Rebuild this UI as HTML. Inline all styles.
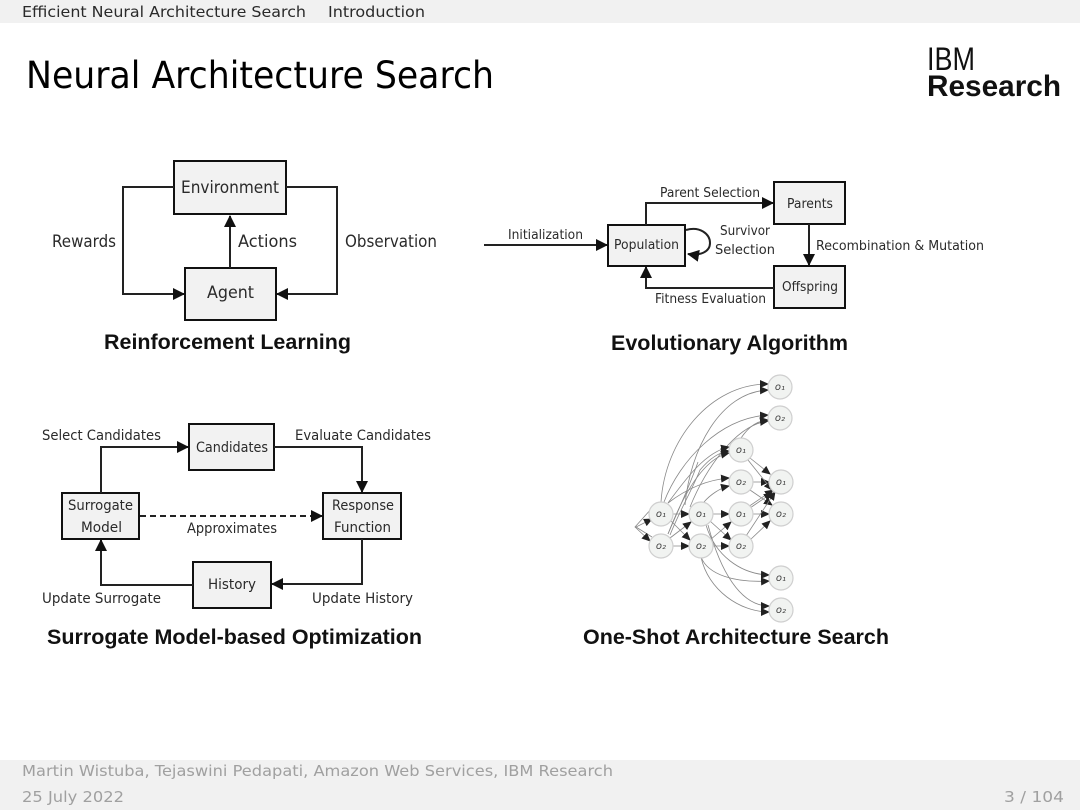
<!DOCTYPE html>
<html><head><meta charset="utf-8"><style>
html,body{margin:0;padding:0;background:#fff;width:1080px;height:810px;overflow:hidden}
svg{display:block}
text{font-family:"DejaVu Sans","Liberation Sans",sans-serif;fill:#2a2a2a}
.b{font-family:"Liberation Sans",sans-serif;font-weight:bold;font-size:21px;fill:#111}
.n{font-size:13px}
.e{stroke:#222;stroke-width:2;fill:none}
.box{fill:#f2f2f2;stroke:#111;stroke-width:2}
.g{fill:none;stroke:#888;stroke-width:.8}
.c{fill:#f1f3f1;stroke:#cfcfcf;stroke-width:1.2}
.o{font-size:10px;font-style:italic;fill:#444;text-anchor:middle}
</style></head><body>
<svg width="1080" height="810" viewBox="0 0 1080 810" xmlns="http://www.w3.org/2000/svg">
<defs>
<marker id="a" markerUnits="userSpaceOnUse" markerWidth="12" markerHeight="12" refX="11" refY="6" orient="auto"><path d="M0 0L12 6L0 12Z" fill="#111"/></marker>
<marker id="s" markerUnits="userSpaceOnUse" markerWidth="9" markerHeight="8" refX="8" refY="4" orient="auto"><path d="M0 0L9 4L0 8Z" fill="#222"/></marker>
</defs>
<rect width="1080" height="23" fill="#f1f1f1"/>
<text x="22" y="17" font-size="15.5" textLength="284" lengthAdjust="spacingAndGlyphs">Efficient Neural Architecture Search</text>
<text x="328" y="17" font-size="15.5" textLength="97" lengthAdjust="spacingAndGlyphs">Introduction</text>
<text x="26" y="88" font-size="37" style="fill:#000" textLength="468" lengthAdjust="spacingAndGlyphs">Neural Architecture Search</text>
<text x="927" y="70" style="font-family:'Liberation Sans';fill:#111" font-size="32" textLength="48" lengthAdjust="spacingAndGlyphs">IBM</text>
<text x="927" y="96" style="font-family:'Liberation Sans';font-weight:bold;fill:#111" font-size="30" textLength="134" lengthAdjust="spacingAndGlyphs">Research</text>

<!-- RL -->
<rect class="box" x="174" y="161" width="112" height="53"/>
<rect class="box" x="185" y="268" width="91" height="52"/>
<text x="181" y="193" font-size="16.5" textLength="98" lengthAdjust="spacingAndGlyphs">Environment</text>
<text x="207" y="298" font-size="16.5" textLength="47" lengthAdjust="spacingAndGlyphs">Agent</text>
<path class="e" marker-end="url(#a)" d="M230 268V216"/>
<path class="e" marker-end="url(#a)" d="M174 187H123V294H184"/>
<path class="e" marker-end="url(#a)" d="M286 187H337V294H277"/>
<text x="52" y="247" font-size="16.5" textLength="64" lengthAdjust="spacingAndGlyphs">Rewards</text>
<text x="238" y="247" font-size="16.5" textLength="59" lengthAdjust="spacingAndGlyphs">Actions</text>
<text x="345" y="247" font-size="16.5" textLength="92" lengthAdjust="spacingAndGlyphs">Observation</text>
<text class="b" x="104" y="349" textLength="247" lengthAdjust="spacingAndGlyphs">Reinforcement Learning</text>

<!-- EA -->
<rect class="box" x="608" y="225" width="77" height="41"/>
<rect class="box" x="774" y="182" width="71" height="42"/>
<rect class="box" x="774" y="266" width="71" height="42"/>
<text x="614" y="249" class="n" textLength="65" lengthAdjust="spacingAndGlyphs">Population</text>
<text x="787" y="208" class="n" textLength="46" lengthAdjust="spacingAndGlyphs">Parents</text>
<text x="782" y="291" class="n" textLength="56" lengthAdjust="spacingAndGlyphs">Offspring</text>
<path class="e" marker-end="url(#a)" d="M484 245H607"/>
<path class="e" marker-end="url(#a)" d="M646 225V203H773"/>
<path class="e" marker-end="url(#a)" d="M809 224V265"/>
<path class="e" marker-end="url(#a)" d="M774 288H646V267"/>
<path class="e" marker-end="url(#a)" d="M686 230C700 226 710 234 710 243C710 252 700 256 688 254"/>
<text x="508" y="239" class="n" textLength="75" lengthAdjust="spacingAndGlyphs">Initialization</text>
<text x="660" y="197" class="n" textLength="100" lengthAdjust="spacingAndGlyphs">Parent Selection</text>
<text x="720" y="235" class="n" textLength="50" lengthAdjust="spacingAndGlyphs">Survivor</text>
<text x="715" y="254" class="n" textLength="60" lengthAdjust="spacingAndGlyphs">Selection</text>
<text x="816" y="250" class="n" textLength="168" lengthAdjust="spacingAndGlyphs">Recombination &amp; Mutation</text>
<text x="655" y="303" class="n" textLength="111" lengthAdjust="spacingAndGlyphs">Fitness Evaluation</text>
<text class="b" x="611" y="350" textLength="237" lengthAdjust="spacingAndGlyphs">Evolutionary Algorithm</text>

<!-- SMBO -->
<rect class="box" x="189" y="424" width="85" height="46"/>
<rect class="box" x="62" y="493" width="77" height="46"/>
<rect class="box" x="323" y="493" width="78" height="46"/>
<rect class="box" x="193" y="562" width="78" height="46"/>
<text x="196" y="452" font-size="14" textLength="72" lengthAdjust="spacingAndGlyphs">Candidates</text>
<text x="68" y="510" font-size="14" textLength="65" lengthAdjust="spacingAndGlyphs">Surrogate</text>
<text x="81" y="532" font-size="14" textLength="41" lengthAdjust="spacingAndGlyphs">Model</text>
<text x="332" y="510" font-size="14" textLength="62" lengthAdjust="spacingAndGlyphs">Response</text>
<text x="334" y="532" font-size="14" textLength="57" lengthAdjust="spacingAndGlyphs">Function</text>
<text x="208" y="589" font-size="14" textLength="48" lengthAdjust="spacingAndGlyphs">History</text>
<path class="e" marker-end="url(#a)" d="M101 493V447H188"/>
<path class="e" marker-end="url(#a)" d="M274 447H362V492"/>
<path class="e" marker-end="url(#a)" d="M362 539V584H272"/>
<path class="e" marker-end="url(#a)" d="M193 585H101V540"/>
<path class="e" stroke-dasharray="6 4" marker-end="url(#a)" d="M140 516H322"/>
<text x="42" y="440" font-size="14" textLength="119" lengthAdjust="spacingAndGlyphs">Select Candidates</text>
<text x="295" y="440" font-size="14" textLength="136" lengthAdjust="spacingAndGlyphs">Evaluate Candidates</text>
<text x="187" y="533" font-size="14" textLength="90" lengthAdjust="spacingAndGlyphs">Approximates</text>
<text x="42" y="603" font-size="14" textLength="119" lengthAdjust="spacingAndGlyphs">Update Surrogate</text>
<text x="312" y="603" font-size="14" textLength="101" lengthAdjust="spacingAndGlyphs">Update History</text>
<text class="b" x="47" y="644" textLength="375" lengthAdjust="spacingAndGlyphs">Surrogate Model-based Optimization</text>

<!-- One-shot -->
<g class="g">
<path marker-end="url(#s)" d="M661 502C665 440 710 384 768 384"/>
<path marker-end="url(#s)" d="M685 505C690 450 720 392 768 390"/>
<path marker-end="url(#s)" d="M664 502C680 460 720 418 768 415"/>
<path marker-end="url(#s)" d="M690 507C705 470 735 425 768 421"/>
<path marker-end="url(#s)" d="M668 503C685 480 705 452 729 447"/>
<path marker-end="url(#s)" d="M668 534C685 490 705 458 729 453"/>
<path marker-end="url(#s)" d="M668 503C685 490 705 480 729 478"/>
<path marker-end="url(#s)" d="M704 502C710 495 720 488 729 486"/>
<path marker-end="url(#s)" d="M670 535C680 510 692 490 700 470C710 458 720 452 729 451"/>
<path marker-end="url(#s)" d="M652 537L636 527L652 519"/>
<path marker-end="url(#s)" d="M652 508L635 527L650 541"/>
<path d="M668 534C676 515 688 490 698 462"/>
<path marker-end="url(#s)" d="M672 514H689"/>
<path marker-end="url(#s)" d="M672 546H689"/>
<path marker-end="url(#s)" d="M670 538L691 522"/>
<path marker-end="url(#s)" d="M671 521L690 540"/>
<path marker-end="url(#s)" d="M712 514H729"/>
<path marker-end="url(#s)" d="M712 546H729"/>
<path marker-end="url(#s)" d="M710 540L731 522"/>
<path marker-end="url(#s)" d="M710 521L731 540"/>
<path marker-end="url(#s)" d="M752 514H769"/>
<path marker-end="url(#s)" d="M750 540L770 521"/>
<path marker-end="url(#s)" d="M752 482H769"/>
<path marker-end="url(#s)" d="M750 458L770 474"/>
<path marker-end="url(#s)" d="M748 460L772 490"/>
<path marker-end="url(#s)" d="M750 490L772 505"/>
<path marker-end="url(#s)" d="M748 507L773 490"/>
<path marker-end="url(#s)" d="M746 536L775 492"/>
<path marker-end="url(#s)" d="M750 508L772 493"/>
<path marker-end="url(#s)" d="M741 438C750 425 758 421 768 420"/>
<path marker-end="url(#s)" d="M706 525C715 555 740 574 769 575"/>
<path marker-end="url(#s)" d="M701 557C708 575 735 583 769 581"/>
<path marker-end="url(#s)" d="M708 525C720 570 740 606 769 606"/>
<path marker-end="url(#s)" d="M701 557C708 590 740 612 769 612"/>
</g>
<g>
<circle class="c" cx="780" cy="387" r="12"/><text class="o" x="780" y="390">o₁</text>
<circle class="c" cx="780" cy="418" r="12"/><text class="o" x="780" y="421">o₂</text>
<circle class="c" cx="741" cy="450" r="12"/><text class="o" x="741" y="453">o₁</text>
<circle class="c" cx="741" cy="482" r="12"/><text class="o" x="741" y="485">o₂</text>
<circle class="c" cx="781" cy="482" r="12"/><text class="o" x="781" y="485">o₁</text>
<circle class="c" cx="781" cy="514" r="12"/><text class="o" x="781" y="517">o₂</text>
<circle class="c" cx="741" cy="514" r="12"/><text class="o" x="741" y="517">o₁</text>
<circle class="c" cx="741" cy="546" r="12"/><text class="o" x="741" y="549">o₂</text>
<circle class="c" cx="701" cy="514" r="12"/><text class="o" x="701" y="517">o₁</text>
<circle class="c" cx="701" cy="546" r="12"/><text class="o" x="701" y="549">o₂</text>
<circle class="c" cx="661" cy="514" r="12"/><text class="o" x="661" y="517">o₁</text>
<circle class="c" cx="661" cy="546" r="12"/><text class="o" x="661" y="549">o₂</text>
<circle class="c" cx="781" cy="578" r="12"/><text class="o" x="781" y="581">o₁</text>
<circle class="c" cx="781" cy="610" r="12"/><text class="o" x="781" y="613">o₂</text>
</g>
<text class="b" x="583" y="644" textLength="306" lengthAdjust="spacingAndGlyphs">One-Shot Architecture Search</text>

<!-- footer -->
<rect y="760" width="1080" height="50" fill="#f1f1f1"/>
<text x="22" y="776" font-size="15.5" style="fill:#a0a0a0" textLength="591" lengthAdjust="spacingAndGlyphs">Martin Wistuba, Tejaswini Pedapati, Amazon Web Services, IBM Research</text>
<text x="22" y="802" font-size="15.5" style="fill:#a0a0a0" textLength="102" lengthAdjust="spacingAndGlyphs">25 July 2022</text>
<text x="1004" y="802" font-size="15.5" style="fill:#a0a0a0" textLength="60" lengthAdjust="spacingAndGlyphs">3 / 104</text>
</svg>
</body></html>
